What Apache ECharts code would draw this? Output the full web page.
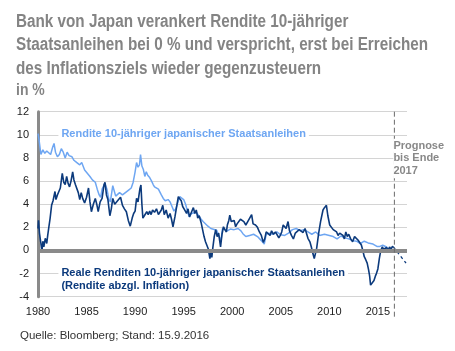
<!DOCTYPE html>
<html>
<head>
<meta charset="utf-8">
<script src="https://cdn.jsdelivr.net/npm/echarts@6/dist/echarts.min.js"></script>
<style>
  html, body { margin: 0; padding: 0; background: #fff; }
  #chart { width: 455px; height: 351px; }
</style>
</head>
<body>
<div id="chart"></div>
<script>
// Nominale Rendite 10-jähriger JGB (hellblau)
const nominalYears = [1980.0, 1980.1, 1980.3, 1980.5, 1980.7, 1980.9, 1981.1, 1981.3, 1981.5, 1981.65, 1981.8, 1982.0, 1982.2, 1982.4, 1982.6, 1982.8, 1983.0, 1983.2, 1983.5, 1983.7, 1984.0, 1984.3, 1984.5, 1984.8, 1985.0, 1985.35, 1985.6, 1985.9, 1986.1, 1986.3, 1986.45, 1986.6, 1986.9, 1987.1, 1987.3, 1987.45, 1987.7, 1988.0, 1988.4, 1988.7, 1989.0, 1989.3, 1989.6, 1989.8, 1990.0, 1990.15, 1990.3, 1990.45, 1990.56, 1990.7, 1990.85, 1991.0, 1991.15, 1991.3, 1991.5, 1991.7, 1991.86, 1992.0, 1992.2, 1992.4, 1992.7, 1992.9, 1993.1, 1993.4, 1993.6, 1993.8, 1994.0, 1994.2, 1994.45, 1994.6, 1994.8, 1995.0, 1995.2, 1995.45, 1995.6, 1995.8, 1996.0, 1996.3, 1996.5, 1996.8, 1997.0, 1997.2, 1997.5, 1997.8, 1998.0, 1998.4, 1998.7, 1998.85, 1999.0, 1999.2, 1999.5, 1999.8, 2000.2, 2000.6, 2000.9, 2001.1, 2001.4, 2001.8, 2002.2, 2002.6, 2003.0, 2003.3, 2003.5, 2003.8, 2004.2, 2004.6, 2005.0, 2005.4, 2005.8, 2006.2, 2006.6, 2007.0, 2007.4, 2007.8, 2008.2, 2008.6, 2009.0, 2009.5, 2010.0, 2010.4, 2010.8, 2011.2, 2011.6, 2012.0, 2012.4, 2012.8, 2013.2, 2013.6, 2014.0, 2014.5, 2014.9, 2015.2, 2015.5, 2015.9, 2016.1, 2016.4, 2016.6];
const nominalValues = [10.1, 9.6, 8.3, 8.7, 8.4, 8.6, 8.7, 8.3, 8.9, 9.25, 8.5, 8.1, 8.3, 8.8, 8.5, 8.0, 8.5, 8.2, 8.1, 7.8, 7.6, 7.4, 7.6, 6.95, 6.8, 6.4, 6.1, 5.9, 5.3, 4.8, 4.6, 5.3, 5.8, 5.3, 4.4, 4.2, 5.6, 4.7, 5.0, 4.8, 5.0, 5.2, 5.4, 5.9, 6.8, 7.6, 7.2, 7.4, 8.3, 7.3, 7.0, 6.4, 6.8, 6.5, 6.3, 6.0, 5.7, 5.5, 5.6, 5.3, 4.8, 4.5, 4.3, 4.4, 4.2, 3.8, 3.4, 3.6, 4.3, 4.65, 4.5, 4.4, 4.0, 3.2, 2.9, 3.2, 3.1, 3.3, 3.2, 2.7, 2.5, 2.4, 2.1, 1.9, 1.8, 1.75, 1.1, 0.9, 1.9, 1.8, 1.7, 1.85, 1.8, 1.9, 1.7, 1.45, 1.2, 1.3, 1.4, 1.2, 0.85, 0.55, 1.4, 1.5, 1.4, 1.6, 1.35, 1.3, 1.5, 1.8, 1.9, 1.7, 1.8, 1.6, 1.4, 1.6, 1.3, 1.4, 1.3, 1.2, 1.0, 1.25, 1.1, 1.0, 0.85, 0.8, 0.6, 0.8, 0.65, 0.55, 0.35, 0.35, 0.45, 0.3, 0.05, -0.15, -0.05];

// Reale Rendite (dunkelblau)
const realYears = [1980.0, 1980.05, 1980.15, 1980.3, 1980.4, 1980.5, 1980.6, 1980.75, 1980.9, 1981.0, 1981.1, 1981.25, 1981.4, 1981.55, 1981.75, 1981.85, 1982.0, 1982.15, 1982.3, 1982.5, 1982.65, 1982.8, 1982.95, 1983.1, 1983.25, 1983.4, 1983.57, 1983.7, 1983.85, 1984.0, 1984.15, 1984.3, 1984.45, 1984.6, 1984.8, 1985.0, 1985.2, 1985.35, 1985.5, 1985.7, 1985.9, 1986.05, 1986.2, 1986.4, 1986.6, 1986.8, 1986.9, 1987.05, 1987.2, 1987.4, 1987.55, 1987.7, 1987.9, 1988.1, 1988.3, 1988.5, 1988.7, 1988.9, 1989.1, 1989.3, 1989.5, 1989.7, 1989.85, 1990.0, 1990.15, 1990.3, 1990.5, 1990.6, 1990.7, 1990.8, 1990.95, 1991.2, 1991.35, 1991.5, 1991.65, 1991.8, 1992.0, 1992.2, 1992.4, 1992.55, 1992.7, 1992.85, 1993.0, 1993.2, 1993.4, 1993.6, 1993.75, 1993.9, 1994.1, 1994.3, 1994.45, 1994.6, 1994.75, 1994.9, 1995.1, 1995.3, 1995.45, 1995.6, 1995.8, 1996.0, 1996.15, 1996.3, 1996.45, 1996.6, 1996.8, 1996.95, 1997.1, 1997.25, 1997.4, 1997.55, 1997.7, 1997.8, 1997.9, 1998.0, 1998.15, 1998.3, 1998.45, 1998.6, 1998.7, 1998.8, 1998.95, 1999.1, 1999.25, 1999.4, 1999.5, 1999.65, 1999.75, 1999.9, 2000.05, 2000.2, 2000.35, 2000.5, 2000.7, 2000.85, 2001.0, 2001.2, 2001.4, 2001.6, 2001.8, 2002.0, 2002.15, 2002.4, 2002.6, 2002.8, 2003.0, 2003.2, 2003.35, 2003.5, 2003.7, 2003.9, 2004.05, 2004.25, 2004.45, 2004.6, 2004.8, 2004.95, 2005.1, 2005.25, 2005.4, 2005.55, 2005.75, 2005.9, 2006.1, 2006.3, 2006.5, 2006.7, 2006.9, 2007.1, 2007.3, 2007.5, 2007.6, 2007.8, 2008.0, 2008.15, 2008.3, 2008.45, 2008.55, 2008.7, 2008.9, 2009.1, 2009.35, 2009.5, 2009.7, 2009.85, 2010.04, 2010.2, 2010.4, 2010.55, 2010.75, 2010.9, 2011.07, 2011.2, 2011.4, 2011.55, 2011.7, 2011.85, 2012.0, 2012.2, 2012.4, 2012.6, 2012.8, 2012.95, 2013.15, 2013.3, 2013.45, 2013.6, 2013.75, 2013.9, 2014.05, 2014.15, 2014.25, 2014.35, 2014.45, 2014.6, 2014.75, 2014.85, 2015.0, 2015.15, 2015.3, 2015.45, 2015.6, 2015.75, 2015.9, 2016.05, 2016.2, 2016.35, 2016.5, 2016.6];
const realValues = [1.9, 2.6, 1.5, 0.6, -0.1, 0.8, 0.3, 1.05, 0.6, 1.3, 1.9, 2.8, 3.9, 4.3, 5.1, 4.4, 4.8, 4.7, 5.4, 6.67, 5.9, 5.7, 6.4, 5.8, 5.5, 6.0, 6.8, 6.1, 5.7, 5.6, 5.0, 4.4, 5.0, 4.5, 4.1, 4.6, 5.4, 4.2, 3.35, 4.0, 4.5, 4.0, 3.35, 4.2, 4.5, 5.7, 5.9, 4.8, 4.4, 3.0, 3.6, 4.5, 4.0, 3.9, 4.4, 4.6, 3.9, 3.6, 3.35, 2.6, 2.1, 2.8, 3.2, 3.4, 4.5, 4.2, 5.37, 5.66, 4.0, 2.8, 3.0, 3.35, 3.1, 3.4, 3.1, 3.5, 3.3, 3.6, 3.1, 3.3, 3.5, 3.9, 3.1, 3.5, 2.8, 3.2, 2.7, 2.05, 2.9, 3.9, 4.65, 4.8, 4.3, 3.8, 3.5, 3.2, 3.6, 2.9, 3.3, 3.7, 3.2, 3.5, 2.8, 3.0, 2.4, 1.8, 1.2, 0.75, 0.6, 0.1, -0.7, -0.2, -0.6, 0.2, 1.2, 1.8, 1.2, 1.5, 0.9, 0.3, 1.4, 2.05, 1.8, 1.6, 2.2, 2.6, 3.06, 2.5, 2.4, 2.6, 2.05, 2.3, 2.2, 2.7, 2.6, 2.5, 2.2, 2.5, 2.8, 3.1, 2.3, 2.2, 2.0, 1.6, 1.3, 0.7, 1.0, 1.6, 1.5, 1.3, 1.7, 1.4, 1.6, 1.5, 1.1, 1.3, 1.6, 2.2, 2.3, 1.9, 2.5, 1.7, 1.3, 1.0, 1.5, 1.4, 1.8, 1.8, 1.55, 1.9, 1.8, 1.05, 0.75, 0.3, -0.25, -0.7, -0.6, 0.2, 1.48, 2.5, 3.5, 3.7, 3.9, 3.0, 2.2, 2.1, 1.8, 1.9, 1.6, 1.3, 1.5, 1.6, 1.3, 1.0, 1.6, 1.2, 1.4, 1.0, 0.75, 1.2, 1.1, 0.9, 1.0, 0.47, 0.0, -0.54, -0.8, -1.1, -1.7, -2.2, -3.0, -3.14, -2.9, -2.6, -2.2, -2.0, -1.6, -0.7, 0.0, 0.3, 0.1, 0.2, 0.25, 0.0, 0.3, 0.1, 0.35, 0.3];

// Prognose bis Ende 2017
const forecastYears = [2016.6, 2017.9];
const forecastValues = [0.3, -1.1];

const prognoseYear = 2016.7;
const xTicks = [1980, 1985, 1990, 1995, 2000, 2005, 2010, 2015];

const titleLines = [
  'Bank von Japan verankert Rendite 10-jähriger',
  'Staatsanleihen bei 0 % und verspricht, erst bei Erreichen',
  'des Inflationsziels wieder gegenzusteuern'
];

const zip = (xs, ys) => xs.map((x, i) => [x, ys[i]]);

const LIGHT = '#6ea6f2';
const DARK = '#0c3a7c';
const GREY = '#8a8a8a';
const TITLE_FONT = 'bold 18px "Liberation Sans", Arial, sans-serif';

// Arial Narrow nachbilden: breiteste Zeile auf ca. 412px stauchen
const ctx = document.createElement('canvas').getContext('2d');
ctx.font = TITLE_FONT;
const narrow = 412 / Math.max(...titleLines.map(l => ctx.measureText(l).width));

const chart = echarts.init(document.getElementById('chart'));

const option = {
  animation: false,
  backgroundColor: '#fff',
  title: [
    {
      text: 'Quelle: Bloomberg; Stand: 15.9.2016',
      left: 15, top: 325,
      textStyle: { fontFamily: 'Liberation Sans', fontWeight: 'normal', fontSize: 11.5, color: '#333' }
    }
  ],
  grid: { left: 38, right: 48, top: 111.7, bottom: 54.3 },
  xAxis: {
    type: 'value', min: 1980, max: 2018, interval: 5,
    axisLine: { show: false }, axisTick: { show: false }, splitLine: { show: false },
    axisLabel: {
      color: '#222', fontFamily: 'Liberation Sans', fontSize: 11, margin: 10,
      formatter: v => xTicks.includes(v) ? String(v) : ''
    }
  },
  yAxis: {
    type: 'value', min: -4, max: 12, interval: 2,
    axisLine: { show: true, onZero: false, lineStyle: { color: GREY, width: 3 } },
    axisTick: { show: false },
    splitLine: { lineStyle: { color: '#d4d4d4', width: 1 } },
    axisLabel: { color: '#222', fontFamily: 'Liberation Sans', fontSize: 11, margin: 9 }
  },
  series: [
    {
      name: 'Nominal', type: 'line', data: zip(nominalYears, nominalValues),
      showSymbol: false, lineStyle: { color: LIGHT, width: 1.5 }, z: 3,
      markLine: {
        silent: true, symbol: 'none', label: { show: false },
        lineStyle: { color: GREY, width: 4, type: 'solid' },
        data: [{ yAxis: 0 }]
      }
    },
    {
      name: 'Real', type: 'line', data: zip(realYears, realValues),
      showSymbol: false, lineStyle: { color: DARK, width: 1.6 }, z: 4
    },
    {
      name: 'Prognose', type: 'line', data: zip(forecastYears, forecastValues),
      showSymbol: false, lineStyle: { color: DARK, width: 1.3, type: [3, 3] }, z: 4
    }
  ]
};

chart.setOption(option);

// Beschriftungen und Prognose-Linie
const px = chart.convertToPixel({ gridIndex: 0 }, [prognoseYear, 12]);
const pxBottom = chart.convertToPixel({ gridIndex: 0 }, [prognoseYear, -4]);
const y10 = chart.convertToPixel({ gridIndex: 0 }, [1980, 10])[1];
const yM2 = chart.convertToPixel({ gridIndex: 0 }, [1980, -2])[1];
const xLab = chart.convertToPixel({ gridIndex: 0 }, [1982.1, 0])[0];

chart.setOption({
  graphic: [
    {
      type: 'text', x: 16, y: 10, scaleX: narrow, silent: true,
      style: { text: titleLines.join('\n'), fill: '#848484', font: TITLE_FONT, lineHeight: 23.5 }
    },
    {
      type: 'text', x: 16, y: 82, scaleX: narrow, silent: true,
      style: { text: 'in %', fill: '#848484', font: 'bold 16.5px "Liberation Sans", Arial, sans-serif' }
    },
    {
      type: 'line', z: 5, silent: true,
      shape: { x1: px[0], y1: px[1], x2: px[0], y2: pxBottom[1] + 20 },
      style: { stroke: '#6a6a6a', lineWidth: 1, lineDash: [5, 3] }
    },
    {
      type: 'text', z: 6, left: px[0] - 1, top: px[1] + 27,
      style: {
        text: 'Prognose\nbis Ende\n2017', fill: '#888', font: 'bold 11px "Liberation Sans"',
        lineHeight: 12.5, backgroundColor: '#fff', padding: [1, 0, 1, 0]
      }
    },
    {
      type: 'text', z: 6, left: xLab, top: y10 - 8,
      style: {
        text: 'Rendite 10-jähriger japanischer Staatsanleihen', fill: LIGHT,
        font: 'bold 11px "Liberation Sans"', backgroundColor: '#fff', padding: [2, 3, 2, 3]
      }
    },
    {
      type: 'text', z: 6, left: xLab, top: yM2 - 9,
      style: {
        text: 'Reale Renditen 10-jähriger japanischer Staatsanleihen\n(Rendite abzgl. Inflation)', fill: DARK,
        font: 'bold 11px "Liberation Sans"', lineHeight: 13, backgroundColor: '#fff', padding: [2, 3, 2, 3]
      }
    }
  ]
});
</script>
</body>
</html>
